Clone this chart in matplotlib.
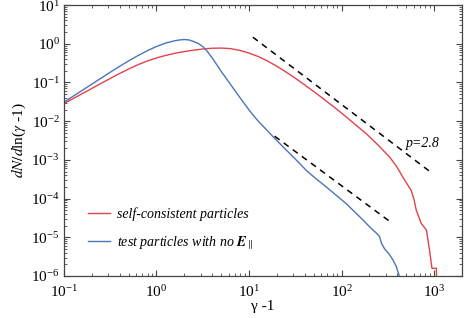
import numpy as np
import matplotlib
matplotlib.use("Agg")
import matplotlib.pyplot as plt
from matplotlib.ticker import LogLocator, LogFormatterMathtext, NullFormatter

plt.rcParams['font.family'] = ['Liberation Serif', 'DejaVu Serif']
plt.rcParams['mathtext.fontset'] = 'stix'
plt.rcParams['font.size'] = 10

# values as log10(gamma-1), log10(dN/dln(gamma-1))
# self-consistent particles (red)
red_lg = [-1.0, -0.9, -0.8, -0.7, -0.6, -0.5, -0.4, -0.3, -0.2, -0.1, 0.0, 0.1, 0.2, 0.3,
          0.4, 0.5, 0.6, 0.7, 0.8, 0.9, 1.0, 1.1, 1.2, 1.3, 1.4, 1.5, 1.6, 1.7, 1.8, 1.9,
          2.0, 2.1, 2.2, 2.27, 2.4, 2.52, 2.6, 2.66, 2.75, 2.78, 2.807, 2.86, 2.916, 2.95,
          2.976, 3.024, 3.026, 3.04]
red_ln = [-1.545, -1.415, -1.285, -1.155, -1.025, -0.895, -0.77, -0.65, -0.54, -0.445,
          -0.365, -0.30, -0.245, -0.20, -0.165, -0.135, -0.115, -0.11, -0.125, -0.17,
          -0.24, -0.33, -0.445, -0.58, -0.73, -0.89, -1.06, -1.235, -1.415, -1.6,
          -1.79, -1.99, -2.19, -2.33, -2.63, -2.93, -3.19, -3.44, -3.78, -4.0, -4.30,
          -4.64, -4.81, -5.33, -5.8, -5.8, -6.1, -6.3]

# test particles with no E_par (blue)
blue_lg = [-1.0, -0.9, -0.8, -0.7, -0.6, -0.5, -0.4, -0.3, -0.2, -0.1, 0.0, 0.1, 0.2, 0.25,
           0.3, 0.35, 0.4, 0.45, 0.5, 0.55, 0.6, 0.65, 0.7, 0.8, 0.9, 1.0, 1.05, 1.1, 1.15,
           1.2, 1.255, 1.35, 1.438, 1.53, 1.618, 1.72, 1.835, 1.94, 2.05, 2.14, 2.23, 2.32,
           2.38, 2.41, 2.43, 2.465, 2.51, 2.555, 2.59, 2.62, 2.65]
blue_ln = [-1.51, -1.355, -1.20, -1.045, -0.89, -0.735, -0.585, -0.44, -0.305, -0.18,
           -0.07, 0.02, 0.08, 0.10, 0.11, 0.10, 0.06, 0.01, -0.07, -0.20, -0.36, -0.535,
           -0.715, -1.05, -1.385, -1.71, -1.86, -2.0, -2.125, -2.25, -2.39, -2.62, -2.83,
           -3.05, -3.27, -3.48, -3.70, -3.91, -4.13, -4.34, -4.55, -4.77, -4.90, -4.98,
           -5.15, -5.30, -5.42, -5.585, -5.75, -5.97, -6.3]

# power-law guides, p=2.8
upper_g = [11, 910]
upper_n = [1.48, 4.9e-4]
lower_g = [18.9, 353]
lower_n = [4.1e-3, 2.3e-5]

red_c = '#e5414b'
blue_c = '#4a74bf'

fig = plt.figure(figsize=(4.77, 3.18), dpi=100)
ax = fig.add_axes([0.134, 0.132, 0.8346, 0.852])

ax.plot(10**np.array(red_lg), 10**np.array(red_ln), color=red_c, lw=1.0,
        label='self-consistent particles')
ax.plot(10**np.array(blue_lg), 10**np.array(blue_ln), color=blue_c, lw=1.0,
        label=r'test particles with no $\boldsymbol{E}_{\parallel}$')
ax.plot(upper_g, upper_n, color='k', lw=1.1, dashes=(4.0, 3.4))
ax.plot(lower_g, lower_n, color='k', lw=1.1, dashes=(4.0, 3.4))
ax.text(500, 2.7e-3, 'p=2.8', style='italic', fontsize=10, va='center', ha='left')

ax.set_xscale('log')
ax.set_yscale('log')
ax.set_xlim(0.1, 2000)
ax.set_ylim(1e-6, 10)

for a in (ax.xaxis, ax.yaxis):
    a.set_major_locator(LogLocator(base=10, numticks=20))
    a.set_minor_locator(LogLocator(base=10, subs=[2, 3, 4, 5, 6, 7, 8, 9], numticks=20))
    a.set_major_formatter(LogFormatterMathtext())
    a.set_minor_formatter(NullFormatter())

ax.tick_params(which='both', direction='in', top=True, right=True, color='#444444')
ax.tick_params(which='major', length=4, width=0.8, labelsize=11)
ax.tick_params(axis='x', which='major', pad=6)
ax.tick_params(axis='y', which='major', pad=3)
ax.tick_params(which='minor', length=2, width=0.6)
for s in ax.spines.values():
    s.set_color('#444444')
    s.set_linewidth(0.9)

ax.set_xlabel('γ -1', fontsize=11, labelpad=0)
ax.set_ylabel(r'$dN/d$ln($\gamma$ -1)', fontsize=11, labelpad=2)

ax.legend(loc='upper left', bbox_to_anchor=(0.06, 0.255), frameon=False,
          prop={'style': 'italic', 'size': 10}, handlelength=1.6, handletextpad=0.5,
          labelspacing=1.0, borderpad=0, borderaxespad=0)

fig.savefig('out.png', dpi=100)
